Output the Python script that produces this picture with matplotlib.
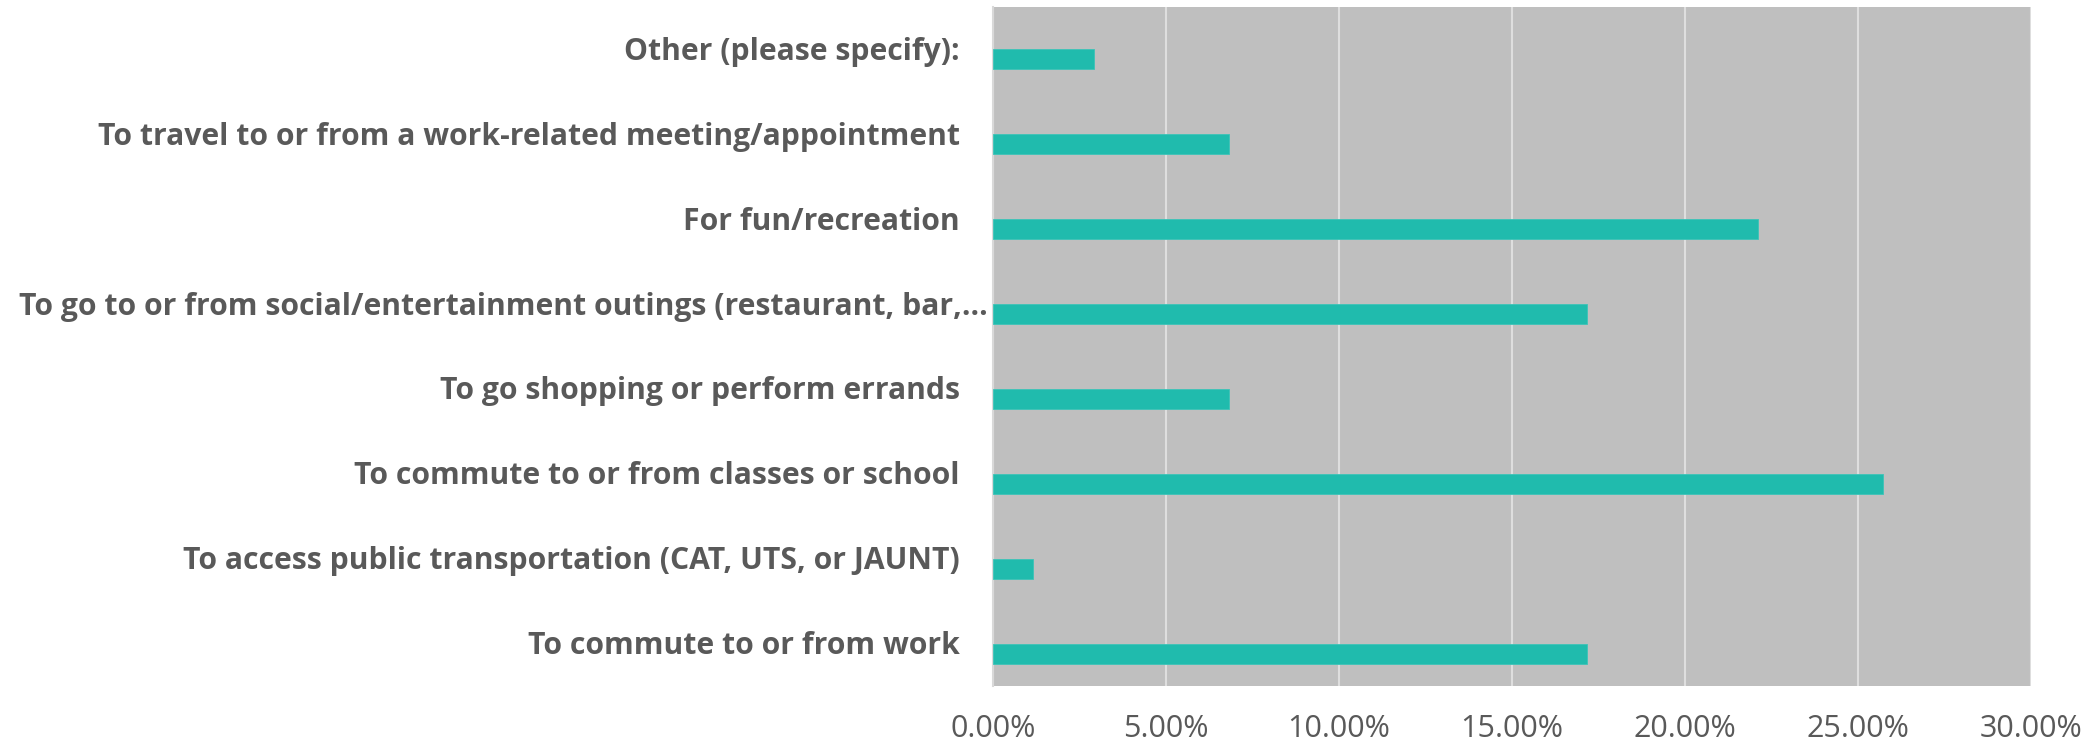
import matplotlib

matplotlib.use("Agg")
import matplotlib.pyplot as plt  # noqa: E402
from matplotlib.ticker import MultipleLocator, FuncFormatter  # noqa: E402
import matplotlib.transforms as mtransforms  # noqa: E402

# categories listed bottom to top, as drawn
categories = [
    "To commute to or from work",
    "To access public transportation (CAT, UTS, or JAUNT)",
    "To commute to or from classes or school",
    "To go shopping or perform errands",
    "To go to or from social/entertainment outings (restaurant, bar,\u2026",
    "For fun/recreation",
    "To travel to or from a work-related meeting/appointment",
    "Other (please specify):",
]
shares = [17.16, 1.16, 25.71, 6.82, 17.16, 22.10, 6.82, 2.91]

TEXT = "#595959"
BAR = "#20BBAD"
FONT = "Open Sans"
BAR_H = 0.235

fig = plt.figure(figsize=(21, 7.45), dpi=100)
ax = fig.add_axes([993 / 2100, 1 - 686 / 745, (2031 - 993) / 2100, (686 - 7) / 745])
ax.set_facecolor("#BFBFBF")

ypos = list(range(len(categories)))
# bars sit in the lower half of each slot, like a two-series cluster with one empty series
ax.barh([y - BAR_H / 2 for y in ypos], shares, height=BAR_H, color=BAR,
        edgecolor="#3cc4b8", linewidth=0.6, zorder=3)

ax.set_xlim(0, 30)
ax.set_ylim(-0.5, len(categories) - 0.5)
ax.xaxis.set_major_locator(MultipleLocator(5))
ax.xaxis.set_major_formatter(FuncFormatter(lambda v, _: f"{v:.2f}%"))
ax.grid(axis="x", color="#DEDEDE", linewidth=1.5, zorder=1)
ax.tick_params(axis="x", length=0, pad=20, labelsize=22, labelcolor=TEXT)
for lab in ax.get_xticklabels():
    lab.set_fontfamily(FONT)
ax.set_yticks([])
for side in ("top", "right", "bottom"):
    ax.spines[side].set_visible(False)
ax.spines["left"].set_color("#D9D9D9")
ax.spines["left"].set_linewidth(1.5)

# y labels drawn by hand so the truncated one can run closer to the axis
trans = mtransforms.blended_transform_factory(ax.transAxes, ax.transData)
for y, name in zip(ypos, categories):
    shift = -5 if name.endswith("\u2026") else -33
    off = mtransforms.offset_copy(trans, fig=fig, x=shift * 0.72, y=0, units="points")
    ax.text(0, y - 0.03, name, transform=off, ha="right", va="center",
            fontsize=21.7, fontweight="bold", color=TEXT, family=FONT)

fig.savefig("out.png", dpi=100)
